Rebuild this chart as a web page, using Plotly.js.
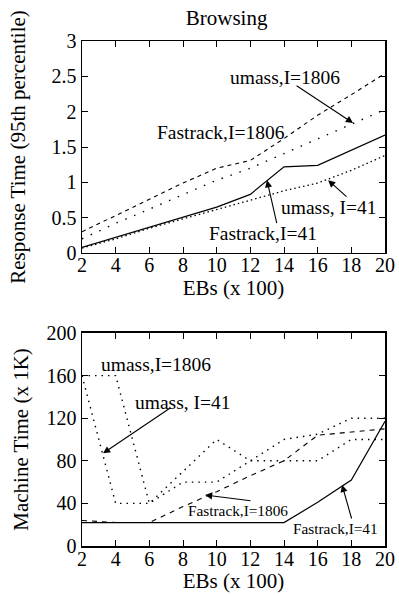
<!DOCTYPE html>
<html>
<head>
<meta charset="utf-8">
<script src="https://cdn.plot.ly/plotly-3.0.1.min.js"></script>
<style>html,body{margin:0;padding:0;background:#fff;}#chart{width:399px;height:596px;}</style>
</head>
<body>
<div id="chart"></div>
<script>
// ---- data ----
const EBs = [2, 4, 6, 8, 10, 12, 14, 16, 18, 20];
const xTicks = [2, 4, 6, 8, 10, 12, 14, 16, 18, 20];
// Response time (95th percentile)
const rtFastrack41   = [0.08, 0.22, 0.37, 0.50, 0.65, 0.83, 1.22, 1.24, 1.45, 1.67];
const rtUmass41      = [0.07, 0.20, 0.35, 0.48, 0.62, 0.74, 0.88, 0.99, 1.17, 1.38];
const rtFastrack1806 = [0.30, 0.53, 0.76, 0.99, 1.20, 1.31, 1.62, 1.95, 2.24, 2.54];
const rtUmass1806    = [0.20, 0.42, 0.62, 0.83, 1.03, 1.20, 1.41, 1.61, 1.82, 2.03];
// Machine time (x 1K)
const mtFastrack41   = [22, 22, 22, 22, 22, 22, 22, 41, 62, 117];
const mtFastrack1806 = [24, 22, 22, 37, 51, 66, 80, 104, 107, 110];
const mtUmass41      = [160, 40, 40, 60, 60, 80, 80, 80, 100, 100];
const mtUmass1806    = [160, 160, 40, 70, 100, 80, 100, 105, 120, 120];
const rtTicks = [0, 0.5, 1, 1.5, 2, 2.5, 3];
const mtTicks = [0, 40, 80, 120, 160, 200];

const FONT = '"Liberation Serif", "Times New Roman", serif';
function line(x, y, dash, xa, ya, w) {
  return {x: x, y: y, mode: 'lines', xaxis: xa, yaxis: ya, showlegend: false,
          line: {color: '#000', width: w || 1.1, dash: dash}, hoverinfo: 'skip'};
}
const traces = [
  line(EBs, rtFastrack41, 'solid', 'x', 'y', 1.2),
  line(EBs, rtUmass41, '1.5px,3px', 'x', 'y', 1.3),
  line(EBs, rtFastrack1806, '4px,4px', 'x', 'y', 1.1),
  line(EBs, rtUmass1806, '1.5px,8px', 'x', 'y', 1.4),
  line(EBs, mtFastrack41, 'solid', 'x2', 'y2', 1.2),
  line(EBs, mtFastrack1806, '5px,5px', 'x2', 'y2', 1.1),
  line(EBs, mtUmass41, '1.5px,5px', 'x2', 'y2', 1.4),
  line(EBs, mtUmass1806, '1.5px,5px', 'x2', 'y2', 1.4)
];

function xax(anchor) {
  return {domain: [0, 1], anchor: anchor, range: [2, 20], tickvals: xTicks,
    ticks: 'inside', ticklen: 6, tickwidth: 1, tickcolor: '#000',
    showline: true, linecolor: '#000', linewidth: 1.5, mirror: 'ticks',
    ticklabelstandoff: -6,
    showgrid: false, zeroline: false, tickfont: {family: FONT, size: 20, color: '#000'},
    title: {text: 'EBs (x 100)', font: {family: FONT, size: 21, color: '#000'}, standoff: 2}};
}
function yax(anchor, domain, range, ticks, title, standoff) {
  return {domain: domain, anchor: anchor, range: range, tickvals: ticks,
    ticks: 'inside', ticklen: 6, tickwidth: 1, tickcolor: '#000',
    showline: true, linecolor: '#000', linewidth: 1.5, mirror: 'ticks',
    showgrid: false, zeroline: false, tickfont: {family: FONT, size: 20, color: '#000'},
    title: {text: title, font: {family: FONT, size: 21, color: '#000'}, standoff: standoff}};
}

function label(text, xa, ya, x, y, size) {
  return {text: text, xref: xa, yref: ya, x: x, y: y, showarrow: false,
          xanchor: 'center', yanchor: 'middle', font: {family: FONT, size: size || 19.5, color: '#000'}};
}
function arrow(xa, ya, x, y, tx, ty) {
  return {text: '', xref: xa, yref: ya, x: x, y: y, axref: xa, ayref: ya, ax: tx, ay: ty,
          showarrow: true, arrowhead: 2, arrowsize: 1.3, arrowwidth: 1.1, arrowcolor: '#000', standoff: 0, startstandoff: 0};
}

const layout = {
  width: 399, height: 596,
  margin: {l: 82, r: 14, t: 41, b: 50},
  paper_bgcolor: '#fff', plot_bgcolor: '#fff',
  title: {text: 'Browsing', x: 0.568, xanchor: 'center', y: 0.971, yanchor: 'middle',
          font: {family: FONT, size: 21, color: '#000'}},
  xaxis: xax('y'),
  yaxis: yax('x', [0.5802, 1], [0, 3], rtTicks, 'Response Time (95th percentile)', 20),
  xaxis2: xax('y2'),
  yaxis2: yax('x2', [0, 0.4218], [0, 200], mtTicks, 'Machine Time (x 1K)', 12),
  annotations: [
    label('umass,I=1806', 'x', 'y', 14.06, 2.49),
    arrow('x', 'y', 18.1, 1.84, 14.66, 2.38),
    label('Fastrack,I=1806', 'x', 'y', 10.26, 1.70),
    label('umass, I=41', 'x', 'y', 16.68, 0.65),
    arrow('x', 'y', 16.62, 1.03, 17.8, 0.78),
    label('Fastrack,I=41', 'x', 'y', 12.75, 0.28),
    arrow('x', 'y', 12.99, 1.03, 13.59, 0.40),
    label('umass,I=1806', 'x2', 'y2', 6.40, 170),
    label('umass, I=41', 'x2', 'y2', 8.0, 135.2),
    arrow('x2', 'y2', 3.25, 87, 7.35, 130.8),
    label('Fastrack,I=1806', 'x2', 'y2', 11.27, 33.8, 15.3),
    arrow('x2', 'y2', 9.31, 47.9, 12.1, 42.3),
    label('Fastrack,I=41', 'x2', 'y2', 17.03, 16, 15.3),
    arrow('x2', 'y2', 17.45, 57.3, 18.04, 24.4)
  ]
};
Plotly.newPlot('chart', traces, layout, {staticPlot: true, displayModeBar: false});
</script>
</body>
</html>
